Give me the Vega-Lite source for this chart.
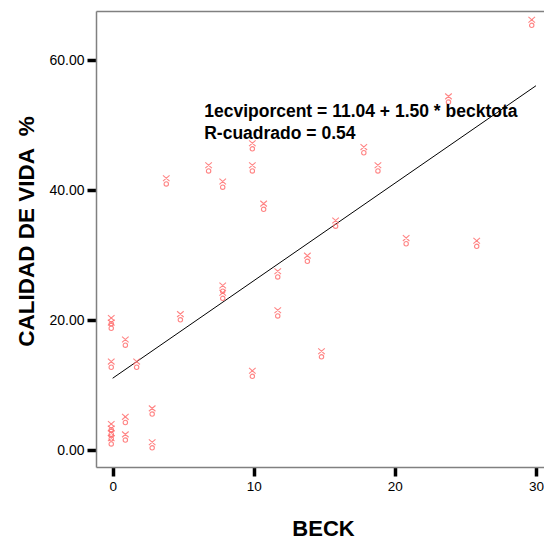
{
  "$schema": "https://vega.github.io/schema/vega-lite/v6.json",
  "autosize": "none",
  "width": 448,
  "height": 456,
  "padding": {"left": 96, "top": 11, "right": 0, "bottom": 75},
  "background": "white",
  "config": {
    "view": {"stroke": null},
    "font": "Liberation Sans",
    "axis": {"grid": false, "tickColor": "black", "tickWidth": 3.5, "tickSize": 9, "domainColor": "#808080", "domainWidth": 1.5, "labelColor": "black", "titleColor": "black"}
  },
  "datasets": {
    "pts": [
      {"beck": 29.7, "cv": 65.8}, {"beck": 23.8, "cv": 54.0}, {"beck": 17.8, "cv": 46.2},
      {"beck": 18.8, "cv": 43.4}, {"beck": 9.9, "cv": 46.8}, {"beck": 6.8, "cv": 43.4},
      {"beck": 9.9, "cv": 43.4}, {"beck": 3.8, "cv": 41.4}, {"beck": 7.8, "cv": 40.9},
      {"beck": 10.7, "cv": 37.5}, {"beck": 11.7, "cv": 27.1}, {"beck": 11.7, "cv": 21.1},
      {"beck": 7.8, "cv": 24.9}, {"beck": 7.8, "cv": 23.8}, {"beck": 4.8, "cv": 20.5},
      {"beck": -0.1, "cv": 19.9}, {"beck": -0.1, "cv": 19.2}, {"beck": 0.9, "cv": 16.6},
      {"beck": -0.1, "cv": 13.2}, {"beck": 1.7, "cv": 13.2}, {"beck": 9.9, "cv": 11.8},
      {"beck": 15.8, "cv": 34.9}, {"beck": 13.8, "cv": 29.5}, {"beck": 20.8, "cv": 32.2},
      {"beck": 25.8, "cv": 31.8}, {"beck": 14.8, "cv": 14.8}, {"beck": 2.8, "cv": 6.0},
      {"beck": 2.8, "cv": 0.8}, {"beck": 0.9, "cv": 4.7}, {"beck": 0.9, "cv": 2.0},
      {"beck": -0.1, "cv": 3.6}, {"beck": -0.1, "cv": 2.9}, {"beck": -0.1, "cv": 2.2},
      {"beck": -0.1, "cv": 1.4}
    ],
    "fit": [{"beck": 0, "cv": 11.04}, {"beck": 30, "cv": 56.04}],
    "notes": [
      {"beck": 6.49, "cv": 51.2, "label": "1ecviporcent = 11.04 + 1.50 * becktota"},
      {"beck": 6.49, "cv": 47.9, "label": "R-cuadrado = 0.54"}
    ]
  },
  "resolve": {"axis": {"x": "independent"}},
  "layer": [
    {
      "data": {"name": "fit"},
      "mark": {"type": "line", "color": "black", "strokeWidth": 1},
      "encoding": {
        "x": {"field": "beck", "type": "quantitative", "axis": null, "scale": {"domain": [-1.18, 30.57], "nice": false, "zero": false}},
        "y": {
          "field": "cv", "type": "quantitative",
          "scale": {"domain": [-2.615, 67.54], "nice": false, "zero": false},
          "axis": {
            "values": [0, 20, 40, 60], "format": ".2f",
            "tickColor": "black", "tickWidth": 3.5, "tickSize": 9,
            "labelFont": "Liberation Sans", "labelFontSize": 14, "labelColor": "black", "labelPadding": 3,
            "title": "CALIDAD DE VIDA \u00a0%", "titleFont": "Liberation Sans", "titleFontSize": 22.5, "titleFontWeight": "bold",
            "titleColor": "black", "titleX": -63, "titleY": 220, "titleBaseline": "alphabetic"
          }
        }
      }
    },
    {
      "data": {"name": "pts"},
      "mark": {
        "type": "point",
        "filled": false,
        "shape": "M-0.6,-1L0.6,0.05M0.6,-1L-0.6,0.05M0.4,0.55A0.4,0.4,0,1,1,-0.4,0.55A0.4,0.4,0,1,1,0.4,0.55",
        "size": 121,
        "stroke": "#ff7070",
        "strokeWidth": 1.1,
        "opacity": 0.85
      },
      "encoding": {
        "x": {
          "field": "beck", "type": "quantitative",
          "scale": {"domain": [-1.18, 30.57], "nice": false, "zero": false},
          "axis": {
            "orient": "bottom", "values": [0, 10, 20, 30], "format": "d",
            "tickColor": "black", "tickWidth": 3.5, "tickSize": 9,
            "labelFont": "Liberation Sans", "labelFontSize": 13.5, "labelColor": "black", "labelPadding": 3,
            "title": "BECK", "titleFont": "Liberation Sans", "titleFontSize": 22, "titleFontWeight": "bold",
            "titleColor": "black", "titleX": 227, "titleY": 68, "titleBaseline": "alphabetic"
          }
        },
        "y": {
          "field": "cv", "type": "quantitative",
          "scale": {"domain": [-2.615, 67.54], "nice": false, "zero": false},
          "axis": {
            "values": [0, 20, 40, 60], "format": ".2f",
            "tickColor": "black", "tickWidth": 3.5, "tickSize": 9,
            "labelFont": "Liberation Sans", "labelFontSize": 14, "labelColor": "black", "labelPadding": 3,
            "title": "CALIDAD DE VIDA \u00a0%", "titleFont": "Liberation Sans", "titleFontSize": 22.5, "titleFontWeight": "bold",
            "titleColor": "black", "titleX": -63, "titleY": 220, "titleBaseline": "alphabetic"
          }
        }
      }
    },
    {
      "data": {"name": "notes"},
      "mark": {"type": "text", "align": "left", "baseline": "alphabetic", "font": "Liberation Sans", "fontSize": 17.5, "fontWeight": "bold", "color": "black"},
      "encoding": {
        "x": {
          "field": "beck", "type": "quantitative",
          "scale": {"domain": [-1.18, 30.57], "nice": false, "zero": false},
          "axis": {"orient": "top", "labels": false, "ticks": false, "title": null}
        },
        "y": {
          "field": "cv", "type": "quantitative",
          "scale": {"domain": [-2.615, 67.54], "nice": false, "zero": false},
          "axis": {
            "values": [0, 20, 40, 60], "format": ".2f",
            "tickColor": "black", "tickWidth": 3.5, "tickSize": 9,
            "labelFont": "Liberation Sans", "labelFontSize": 14, "labelColor": "black", "labelPadding": 3,
            "title": "CALIDAD DE VIDA \u00a0%", "titleFont": "Liberation Sans", "titleFontSize": 22.5, "titleFontWeight": "bold",
            "titleColor": "black", "titleX": -63, "titleY": 220, "titleBaseline": "alphabetic"
          }
        },
        "text": {"field": "label"}
      }
    }
  ]
}
